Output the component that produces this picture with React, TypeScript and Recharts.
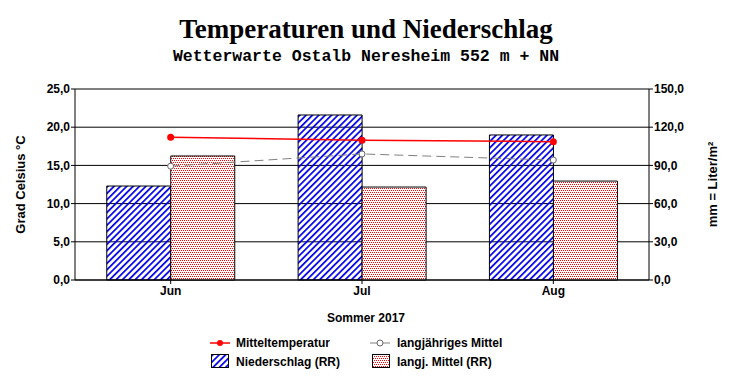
import React from "react";
import { Bar, CartesianGrid, ComposedChart, Line, XAxis, YAxis } from "recharts";

const months = ["Jun", "Jul", "Aug"];
const meanTemp = [18.7, 18.3, 18.1];
const longTermTemp = [14.9, 16.5, 15.7];
const precipitation = [73.8, 129.6, 113.9];
const longTermPrecip = [97.4, 73.0, 77.7];
const tempTicks = [0, 5, 10, 15, 20, 25];
const precipTicks = [0, 30, 60, 90, 120, 150];

const data = months.map((m, i) => ({
  month: m,
  temp: meanTemp[i],
  tempMean: longTermTemp[i],
  rr: precipitation[i],
  rrMean: longTermPrecip[i],
}));

const fmt = (v: number) => v.toFixed(1).replace(".", ",");
const font = "'Liberation Sans', Arial, sans-serif";
const tick = { fill: "#000", fontSize: 12, fontWeight: 700, fontFamily: font };
const axisLabel = { ...tick, fontSize: 13, textAnchor: "middle" as const };

function Patterns({ suffix = "" }: { suffix?: string }) {
  return (
    <defs>
      <pattern id={"hatch" + suffix} patternUnits="userSpaceOnUse" width="4.5" height="4.5" patternTransform="rotate(45)">
        <rect x="0" y="0" width="1.7" height="4.5" fill="#0000ee" />
      </pattern>
      <pattern id={"dots" + suffix} patternUnits="userSpaceOnUse" width="2" height="4">
        <rect x="0" y="0" width="2" height="4" fill="#fff" />
        <rect x="0" y="0" width="1" height="1" fill="#ff0000" />
        <rect x="1" y="2" width="1" height="1" fill="#ff0000" />
      </pattern>
    </defs>
  );
}

export default function App() {
  return (
    <div style={{ position: "absolute", left: 0, top: 0, width: 732, height: 384, background: "#fff" }}>
      <div style={{ position: "absolute", top: 14, width: 732, textAlign: "center", fontFamily: "'Liberation Serif', serif", fontWeight: 700, fontSize: 27 }}>
        Temperaturen und Niederschlag
      </div>
      <div style={{ position: "absolute", top: 47, width: 732, textAlign: "center", fontFamily: "'Liberation Mono', monospace", fontWeight: 700, fontSize: 16.5 }}>
        Wetterwarte Ostalb Neresheim 552 m + NN
      </div>
      <ComposedChart
        width={732}
        height={384}
        data={data}
        margin={{ top: 89, right: 0, bottom: 74, left: 0 }}
        barCategoryGap="16.6%"
        barGap={0}
      >
        <Patterns />
        <CartesianGrid yAxisId="left" vertical={false} stroke="#000" />
        <XAxis
          dataKey="month"
          tick={tick}
          tickLine={{ stroke: "#000" }}
          axisLine={{ stroke: "#000" }}
          tickSize={4}
          height={30}
        />
        <YAxis
          yAxisId="left"
          domain={[0, 25]}
          ticks={tempTicks}
          tickFormatter={fmt}
          tick={tick}
          width={75}
          tickSize={4}
          tickMargin={1}
          axisLine={{ stroke: "#000" }}
          tickLine={{ stroke: "#000" }}
          label={{ value: "Grad Celsius °C", angle: -90, position: "insideLeft", offset: 20, style: axisLabel }}
        />
        <YAxis
          yAxisId="right"
          orientation="right"
          domain={[0, 150]}
          ticks={precipTicks}
          tickFormatter={fmt}
          tick={tick}
          width={83}
          tickSize={4}
          tickMargin={1}
          axisLine={{ stroke: "#000" }}
          tickLine={{ stroke: "#000" }}
          label={{ value: "mm = Liter/m²", angle: -90, position: "insideRight", offset: 20, style: axisLabel }}
        />
        <Bar yAxisId="right" dataKey="rr" fill="url(#hatch)" stroke="#000" strokeWidth={1} isAnimationActive={false} />
        <Bar yAxisId="right" dataKey="rrMean" fill="url(#dots)" stroke="#000" strokeWidth={1} isAnimationActive={false} />
        <Line
          yAxisId="left"
          dataKey="tempMean"
          stroke="#808080"
          strokeWidth={1}
          strokeDasharray="9 5"
          dot={{ r: 3, fill: "#fff", stroke: "#666", strokeWidth: 1, strokeDasharray: "" }}
          isAnimationActive={false}
        />
        <Line
          yAxisId="left"
          dataKey="temp"
          stroke="#ff0000"
          strokeWidth={1.5}
          dot={{ r: 3.5, fill: "#ff0000", stroke: "#ff0000", strokeWidth: 0 }}
          isAnimationActive={false}
        />
      </ComposedChart>
      <div style={{ position: "absolute", top: 311, width: 732, textAlign: "center", ...tick }}>Sommer 2017</div>
      <svg width={732} height={384} style={{ position: "absolute", left: 0, top: 0, pointerEvents: "none" }}>
        <Patterns suffix="L" />
        <line x1={210} y1={343} x2={230} y2={343} stroke="#ff0000" strokeWidth={1.5} />
        <circle cx={220} cy={343} r={3} fill="#ff0000" />
        <line x1={370} y1={343} x2={390} y2={343} stroke="#808080" strokeWidth={1} />
        <circle cx={380} cy={343} r={3} fill="#fff" stroke="#666" />
        <rect x={211.5} y={354.5} width={17} height={13} fill="url(#hatchL)" stroke="#000" />
        <rect x={372.5} y={354.5} width={17} height={13} fill="url(#dotsL)" stroke="#000" />
        <text x={236} y={347} style={tick}>Mitteltemperatur</text>
        <text x={397} y={347} style={tick}>langjähriges Mittel</text>
        <text x={236} y={366} style={tick}>Niederschlag (RR)</text>
        <text x={397} y={366} style={tick}>langj. Mittel (RR)</text>
      </svg>
    </div>
  );
}
